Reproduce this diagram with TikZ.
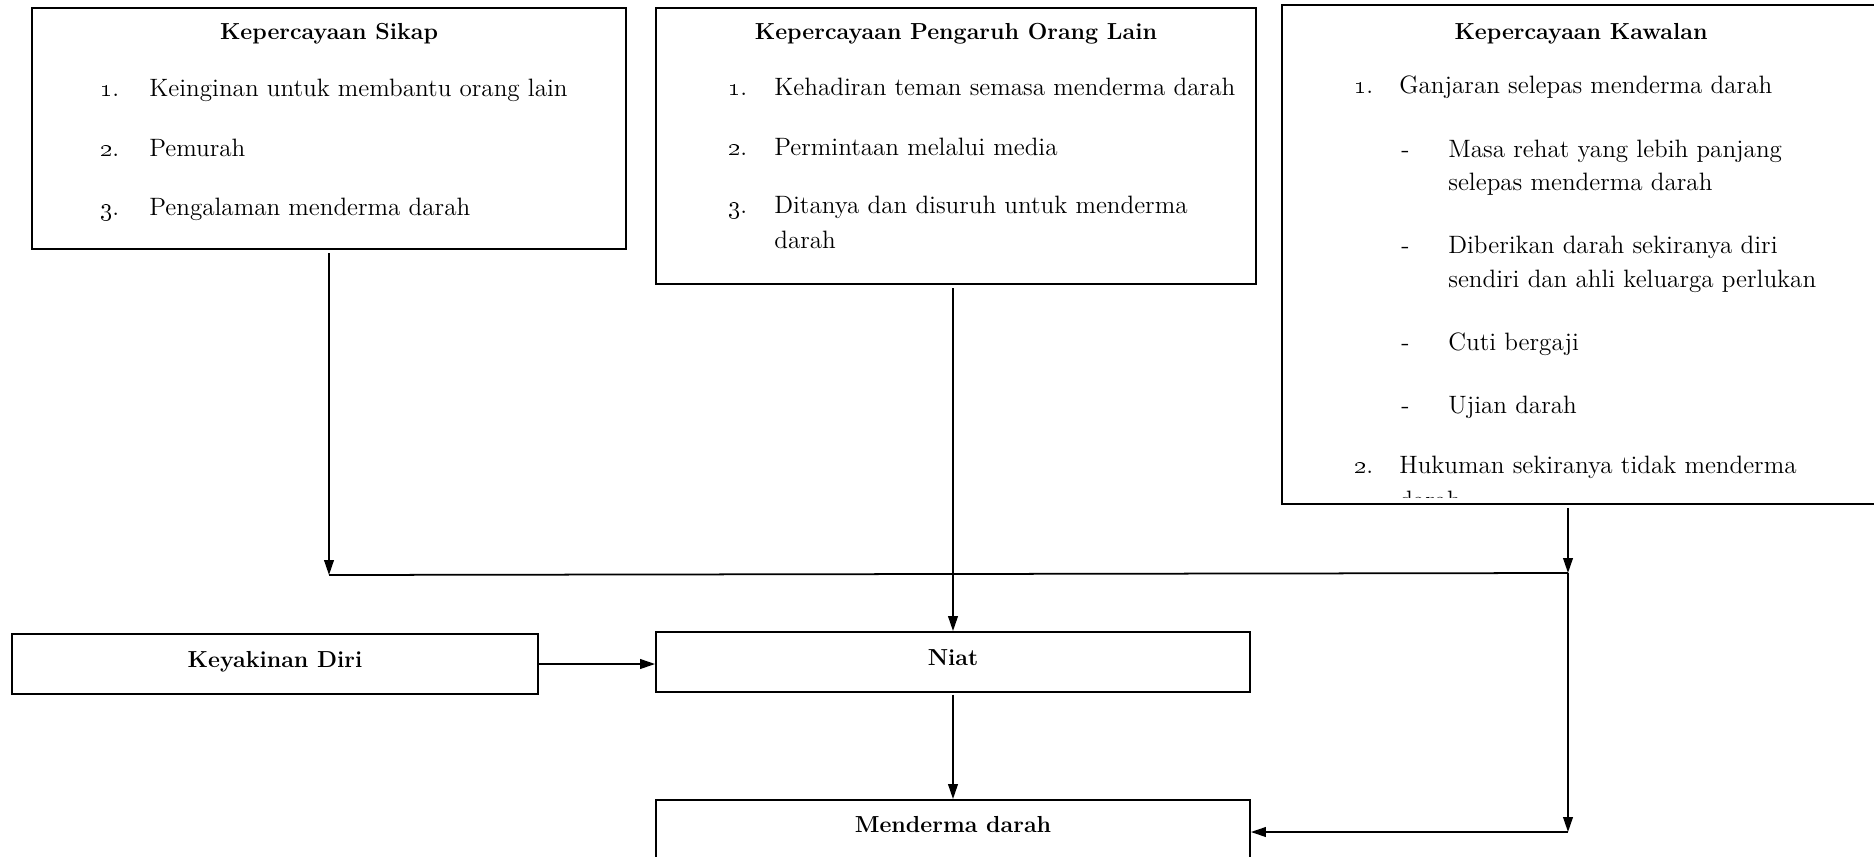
\documentclass[tikz,border=0pt]{standalone}
\usetikzlibrary{arrows.meta}
\newcommand{\isifont}{\fontsize{14.3}{17}\selectfont}
\newcommand{\judulfont}{\bfseries\fontsize{13.2}{16}\selectfont}
\tikzset{
  kotak/.style={draw,line width=1.1pt,inner sep=0pt},
  kecil/.style={kotak,font=\judulfont,text height=9pt,text depth=5.5pt},
  isi/.style={anchor=base west,inner sep=0pt,font=\isifont},
  judul/.style={anchor=base,inner sep=0pt,font=\judulfont},
  panah/.style={line width=1pt,-{Triangle[length=8.5pt,width=5.5pt]}},
  garis/.style={line width=1pt},
}
\newcommand{\Butir}[6]{%
  \node[isi] (#1n) at (#2,#4) {#5};%
  \node[isi] (#1t) at (#3,#4) {#6};%
}
\begin{document}
\begin{tikzpicture}[x=0.02cm,y=-0.02cm]
\useasboundingbox (0,0) rectangle (1874,856);
% kotak atas
\node[kotak,minimum width=11.88cm,minimum height=4.82cm] (sikap) at (329,128.5) {};
\node[kotak,minimum width=12cm,minimum height=5.52cm] (pengaruh) at (956,146) {};
\node[kotak,minimum width=11.96cm,minimum height=9.98cm] (kawalan) at (1581,254.5) {};
% kepercayaan sikap
\node[judul] (sikapjudul) at (329,39) {Kepercayaan Sikap};
\Butir{s1}{100}{149}{96}{\oldstylenums{1}.}{Keinginan untuk membantu orang lain}
\Butir{s2}{100}{149}{156}{\oldstylenums{2}.}{Pemurah}
\Butir{s3}{100}{149}{215}{\oldstylenums{3}.}{Pengalaman menderma darah}
% kepercayaan pengaruh orang lain
\node[judul] (pengaruhjudul) at (956,39) {Kepercayaan Pengaruh Orang Lain};
\Butir{p1}{728}{774}{95}{\oldstylenums{1}.}{Kehadiran teman semasa menderma darah}
\Butir{p2}{728}{774}{155}{\oldstylenums{2}.}{Permintaan melalui media}
\Butir{p3}{728}{774}{213}{\oldstylenums{3}.}{Ditanya dan disuruh untuk menderma}
\node[isi] (p3b) at (774,248) {darah};
% kepercayaan kawalan
\node[judul] (kawalanjudul) at (1581,39) {Kepercayaan Kawalan};
\Butir{k1}{1354}{1399}{93}{\oldstylenums{1}.}{Ganjaran selepas menderma darah}
\Butir{ka}{1401}{1448}{157}{-}{Masa rehat yang lebih panjang}
\node[isi] (kab) at (1448,190) {selepas menderma darah};
\Butir{kb}{1401}{1448}{253}{-}{Diberikan darah sekiranya diri}
\node[isi] (kbb) at (1448,287) {sendiri dan ahli keluarga perlukan};
\Butir{kc}{1401}{1448}{350}{-}{Cuti bergaji}
\Butir{kd}{1401}{1448}{413}{-}{Ujian darah}
\Butir{k2}{1354}{1399}{473}{\oldstylenums{2}.}{Hukuman sekiranya tidak menderma}
\begin{scope}
  \clip (1282,5) rectangle (1880,497);
  \node[isi] (k2b) at (1399,508) {darah};
\end{scope}
% kotak bawah
\node[kecil,minimum width=10.52cm,minimum height=1.2cm] (yakin) at (275,664) {Keyakinan Diri};
\node[kecil,minimum width=11.88cm,minimum height=1.2cm] (niat) at (953,662) {Niat};
\node[kecil,minimum width=11.88cm,minimum height=1.4cm,text depth=11.5pt] (derma) at (953,835) {Menderma darah};
% simpang
\coordinate (kiri) at (329,575);
\coordinate (kanan) at (1568,573);
\coordinate (bawah) at (1568,832);
% anak panah
\draw[panah,shorten <=2pt] (sikap.south) -- (kiri);
\draw[garis] (kiri) -- (kanan);
\draw[panah,shorten <=2pt] (kawalan.south -| kanan) -- (kanan);
\draw[panah,shorten <=2pt] (niat.north |- pengaruh.south) -- (niat.north);
\draw[panah] (yakin.east) -- (yakin.east -| niat.west);
\draw[panah,shorten <=1pt] (niat.south) -- (derma.north);
\draw[panah] (kanan) -- (bawah);
\draw[panah] (bawah) -- (bawah -| derma.east);
\end{tikzpicture}
\end{document}
